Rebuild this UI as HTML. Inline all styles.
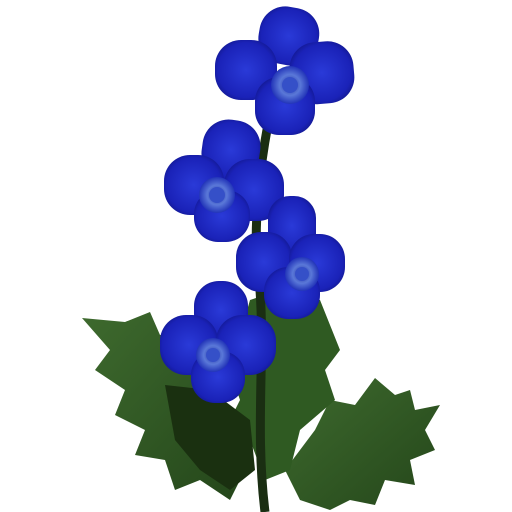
<!DOCTYPE html>
<html><head><meta charset="utf-8"><style>
html,body{margin:0;padding:0;background:#fff;width:512px;height:512px;overflow:hidden}
</style></head><body>
<svg width="512" height="512" viewBox="0 0 512 512">
<defs>
<radialGradient id="pet" cx="50%" cy="50%" r="65%">
<stop offset="0" stop-color="#2a3ad8"/><stop offset="0.7" stop-color="#1a22b8"/><stop offset="1" stop-color="#0c1070"/>
</radialGradient>
<radialGradient id="ctr" cx="50%" cy="50%" r="50%">
<stop offset="0" stop-color="#2030a0"/><stop offset="0.55" stop-color="#5a78d8"/><stop offset="1" stop-color="#2234b8"/>
</radialGradient>
<linearGradient id="leaf" x1="0" y1="0" x2="1" y2="1">
<stop offset="0" stop-color="#3e6a2e"/><stop offset="1" stop-color="#24461a"/>
</linearGradient>
</defs>
<g>
<path fill="url(#leaf)" d="M82,318 L125,322 L150,312 L160,335 L195,330 L185,360 L225,380 L205,400 L240,420 L215,440 L245,470 L230,500 L200,480 L175,490 L165,460 L135,455 L145,430 L115,415 L125,390 L95,370 L110,350 Z"/>
<path fill="url(#leaf)" d="M285,470 L315,430 L330,400 L355,405 L375,378 L395,395 L410,390 L415,410 L440,405 L425,430 L435,450 L410,460 L415,485 L385,480 L375,505 L350,500 L330,510 L300,500 Z"/>
<path fill="#2f5a22" d="M250,300 L280,290 L320,300 L340,350 L325,370 L335,400 L300,430 L290,470 L265,480 L250,440 L225,430 L240,400 L230,370 Z"/>
<path fill="#1a3010" d="M165,385 L210,390 L250,420 L255,470 L230,490 L200,470 L175,440 Z"/>
</g>
<path d="M272,105 C262,150 250,230 260,290 C265,360 255,430 265,512" stroke="#1a2e12" stroke-width="9" fill="none"/>
<g>
<g transform="translate(285,75)">
<rect x="-33" y="-68" width="60" height="58" rx="26" fill="url(#pet)" transform="rotate(10)"/>
<rect x="-70" y="-35" width="62" height="60" rx="26" fill="url(#pet)"/>
<rect x="5" y="-30" width="64" height="62" rx="26" fill="url(#pet)" transform="rotate(-5)"/>
<rect x="-30" y="2" width="60" height="58" rx="24" fill="url(#pet)"/>
<circle r="19" cx="5" cy="10" fill="url(#ctr)"/><circle r="8" cx="5" cy="10" fill="#3550c8"/></g>
<g transform="translate(222,185)">
<rect x="-25" y="-66" width="58" height="60" rx="26" fill="url(#pet)" transform="rotate(8)"/>
<rect x="-58" y="-30" width="60" height="60" rx="26" fill="url(#pet)"/>
<rect x="2" y="-26" width="60" height="62" rx="26" fill="url(#pet)"/>
<rect x="-28" y="5" width="56" height="52" rx="24" fill="url(#pet)"/>
<circle r="18" cx="-5" cy="10" fill="url(#ctr)"/><circle r="8" cx="-5" cy="10" fill="#3550c8"/></g>
<g transform="translate(292,262)">
<rect x="-24" y="-66" width="48" height="60" rx="22" fill="url(#pet)"/>
<rect x="-56" y="-30" width="56" height="60" rx="25" fill="url(#pet)"/>
<rect x="-3" y="-28" width="56" height="58" rx="25" fill="url(#pet)"/>
<rect x="-28" y="5" width="56" height="52" rx="24" fill="url(#pet)"/>
<circle r="17" cx="10" cy="12" fill="url(#ctr)"/><circle r="7" cx="10" cy="12" fill="#3550c8"/></g>
<g transform="translate(218,345)">
<rect x="-24" y="-64" width="54" height="58" rx="25" fill="url(#pet)"/>
<rect x="-58" y="-30" width="58" height="60" rx="26" fill="url(#pet)"/>
<rect x="-2" y="-30" width="60" height="60" rx="26" fill="url(#pet)"/>
<rect x="-27" y="6" width="54" height="52" rx="24" fill="url(#pet)"/>
<circle r="17" cx="-5" cy="10" fill="url(#ctr)"/><circle r="7" cx="-5" cy="10" fill="#3550c8"/></g>
</g>
</svg>
</body></html>
